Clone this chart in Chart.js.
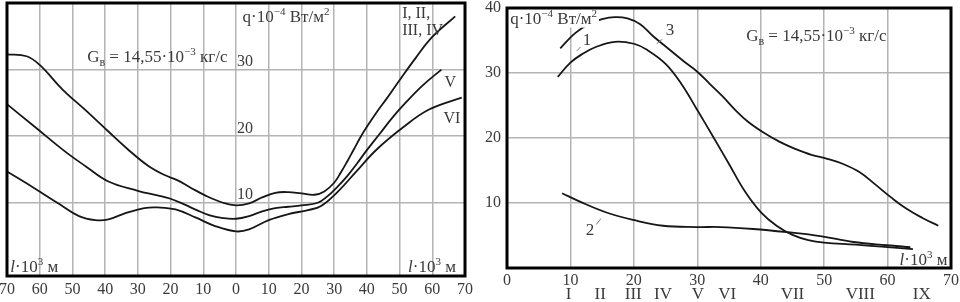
<!DOCTYPE html>
<html>
<head>
<meta charset="utf-8">
<title>q(l)</title>
<script src="https://cdn.jsdelivr.net/npm/chart.js"></script>
<style>
  body { margin: 0; background: #fff; }
  canvas { position: absolute; top: 0; }
  #left { left: 0; }
  #right { left: 480px; }
</style>
</head>
<body>
<canvas id="left" width="480" height="302"></canvas>
<canvas id="right" width="480" height="302"></canvas>

<script>
  // ---- left panel: l measured both ways from the centre ----
  const yTicksLeft = [10, 20, 30];

  const curveI_IV_x = [-70, -64, -60, -53, -46, -39, -33, -27, -22, -18, -14, -9, -4, 0, 4, 8, 12, 16, 20, 24, 27, 30, 32, 34, 36, 38, 40, 43, 46, 50, 55, 60, 67];
  const curveI_IV_y = [32.3, 32.0, 30.7, 27.0, 23.9, 20.7, 18.0, 15.6, 14.2, 13.4, 12.3, 11.0, 10.0, 9.6, 9.9, 10.8, 11.5, 11.6, 11.4, 11.2, 11.7, 13.0, 14.5, 16.2, 18.0, 19.8, 21.4, 23.6, 25.6, 28.4, 31.8, 34.9, 38.0];

  const curveV_x = [-70, -62, -52, -46, -39, -30, -24, -20, -16, -12, -8, -4, 0, 4, 8, 12, 16, 20, 25, 28, 31, 34, 37, 40, 44, 48, 52, 57, 62.8];
  const curveV_y = [24.8, 21.6, 17.6, 15.5, 13.2, 11.8, 11.1, 10.6, 9.8, 8.9, 8.1, 7.7, 7.6, 8.0, 8.7, 9.2, 9.4, 9.6, 10.0, 11.0, 12.4, 14.0, 15.9, 17.9, 20.4, 22.9, 25.1, 27.6, 30.0];

  const curveVI_x = [-70, -62, -54, -48, -43, -39, -34, -28, -24, -18.5, -12.4, -6.4, 0, 4, 10, 16, 22, 26, 31, 36.6, 43, 51, 59, 69];
  const curveVI_y = [14.7, 12.3, 9.8, 8.0, 7.4, 7.5, 8.4, 9.2, 9.3, 9.0, 7.8, 6.5, 5.7, 6.0, 7.4, 8.3, 8.9, 9.5, 11.6, 14.6, 18.0, 21.3, 24.0, 25.8];

  // ---- right panel ----
  const curve1_x = [8, 10, 12, 14, 17, 20, 22, 25, 27.5, 30, 32.5, 35, 37.5, 40, 42.5, 45, 47.5, 50, 55, 60, 64];
  const curve1_y = [29.4, 31.6, 33.0, 34.0, 34.8, 34.5, 33.6, 31.4, 28.3, 24.3, 20.2, 16.0, 11.8, 8.6, 6.5, 5.1, 4.3, 3.9, 3.6, 3.2, 2.9];

  const curve2_x = [8.7, 11.5, 15.8, 19.9, 24.6, 30, 33.6, 38.8, 44.2, 49.4, 54.6, 59.9, 63.6];
  const curve2_y = [11.5, 10.2, 8.5, 7.4, 6.5, 6.3, 6.3, 6.0, 5.5, 4.9, 4.0, 3.5, 3.2];

  const curve3_x = [8.4, 10.7, 13, 15, 17, 19, 21, 23, 25.5, 28, 30, 32, 34, 36, 38, 40.5, 43, 45.5, 48, 50.5, 53, 55.5, 58, 60.5, 63, 65.5, 68];
  const curve3_y = [33.8, 36.1, 37.6, 38.3, 38.6, 38.4, 37.5, 35.7, 33.7, 31.7, 30.2, 28.3, 26.4, 24.3, 22.5, 20.8, 19.4, 18.3, 17.4, 16.8, 16.0, 14.8, 12.9, 10.9, 9.1, 7.7, 6.5];

  // sections of the channel marked under the axis
  const sectionNames = ['I', 'II', 'III', 'IV', 'V', 'VI', 'VII', 'VIII', 'IX'];
  const sectionAt = [9.7, 14.7, 19.9, 24.6, 30.1, 34.7, 45, 55.7, 65.4];

  const FONT = "'Liberation Serif', 'DejaVu Serif', serif";
  const GRID = '#b4b4b4';
  const INK = '#161616';
  const TXT = '#3a3a3a';

  const G_TEXT = [{t: 'G'}, {t: 'в', sub: true}, {t: ' = 14,55·10'}, {t: '−3', sup: true}, {t: ' кг/с'}];
  const Q_TEXT = [{t: 'q·10'}, {t: '−4', sup: true}, {t: ' Вт/м'}, {t: '2', sup: true}];
  const L_TEXT = [{t: 'l', it: true}, {t: '·10'}, {t: '3', sup: true}, {t: ' м'}];

  function curve(xs, ys) {
    return {
      data: xs.map((x, i) => ({x: x, y: ys[i]})),
      showLine: true,
      borderColor: INK,
      borderWidth: 1.8,
      pointRadius: 0,
      fill: false,
      tension: 0.4
    };
  }

  // draws text made of pieces, some raised or lowered; returns width
  function rich(ctx, x, y, parts, size, color, bg) {
    const fonts = parts.map(p => {
      const s = p.sup ? Math.round(size * 0.62) : p.sub ? Math.round(size * 0.72) : size;
      return (p.it ? 'italic ' : '') + s + 'px ' + FONT;
    });
    let w = 0;
    const widths = parts.map((p, i) => { ctx.font = fonts[i]; const m = ctx.measureText(p.t).width; w += m; return m; });
    if (bg) {
      ctx.fillStyle = '#fff';
      ctx.fillRect(x - 1, y - size * 0.85, w + 3, size * 1.05);
    }
    ctx.fillStyle = color;
    ctx.textAlign = 'left';
    ctx.textBaseline = 'alphabetic';
    let cx = x;
    parts.forEach((p, i) => {
      ctx.font = fonts[i];
      let dy = 0;
      if (p.sup) dy = -size * 0.42;
      if (p.sub) dy = size * 0.2;
      ctx.fillText(p.t, cx, y + dy);
      cx += widths[i];
    });
    return w;
  }

  const notesPlugin = {
    id: 'notes',
    afterDatasetsDraw(chart, args, opts) {
      const ctx = chart.ctx;
      const xs = chart.scales.x, ys = chart.scales.y;
      const a = chart.chartArea;
      ctx.save();
      (opts.items || []).forEach(n => {
        const px = xs.getPixelForValue(n.x);
        const py = ys.getPixelForValue(n.y);
        const parts = typeof n.text === 'string' ? [{t: n.text}] : n.text;
        let x = px;
        if (n.align === 'center') {
          ctx.font = n.size + 'px ' + FONT;
          x = px - ctx.measureText(parts.map(p => p.t).join('')).width / 2;
        }
        rich(ctx, x, py, parts, n.size, n.color || TXT, n.bg);
      });
      (opts.leaders || []).forEach(l => {
        ctx.strokeStyle = '#777';
        ctx.lineWidth = 1;
        ctx.beginPath();
        ctx.moveTo(xs.getPixelForValue(l[0]), ys.getPixelForValue(l[1]));
        ctx.lineTo(xs.getPixelForValue(l[2]), ys.getPixelForValue(l[3]));
        ctx.stroke();
      });
      if (opts.sections) {
        ctx.font = '17px ' + FONT;
        ctx.fillStyle = TXT;
        ctx.textAlign = 'center';
        ctx.textBaseline = 'alphabetic';
        sectionNames.forEach((s, i) => ctx.fillText(s, xs.getPixelForValue(sectionAt[i]), a.bottom + 31));
      }
      // frame
      ctx.strokeStyle = '#000';
      ctx.lineWidth = 3;
      ctx.strokeRect(a.left, a.top, a.right - a.left, a.bottom - a.top);
      ctx.restore();
    }
  };

  const hideEdge = (lo, hi) => c => (c.tick && (c.tick.value === lo || c.tick.value === hi)) ? 'rgba(0,0,0,0)' : GRID;

  // ---------- left chart ----------
  new Chart(document.getElementById('left'), {
    type: 'scatter',
    data: {
      datasets: [curve(curveI_IV_x, curveI_IV_y), curve(curveV_x, curveV_y), curve(curveVI_x, curveVI_y)]
    },
    options: {
      responsive: false,
      animation: false,
      layout: { padding: { left: 7, right: 15, top: 3, bottom: 0 } },
      plugins: {
        legend: { display: false },
        tooltip: { enabled: false },
        notes: {
          items: [
            { x: -45.5, y: 31.1, text: G_TEXT, size: 17 },
            { x: 2, y: 37.2, text: Q_TEXT, size: 17 },
            { x: 50.8, y: 37.8, text: 'I, II,', size: 16 },
            { x: 50.8, y: 35.2, text: 'III, IV', size: 16 },
            { x: 63.7, y: 27.4, text: 'V', size: 16 },
            { x: 63.4, y: 22.0, text: 'VI', size: 16 },
            { x: -69, y: -0.4, text: L_TEXT, size: 17 },
            { x: 52.6, y: -0.4, text: L_TEXT, size: 17 },
            { x: 0.3, y: 30.5, text: '30', size: 16 },
            { x: 0.3, y: 20.5, text: '20', size: 16 },
            { x: 0.3, y: 10.5, text: '10', size: 16 }
          ]
        }
      },
      scales: {
        x: {
          type: 'linear',
          min: -70,
          max: 70,
          ticks: {
            stepSize: 10,
            maxRotation: 0,
            padding: 4,
            color: TXT,
            font: { family: FONT, size: 16 },
            callback: v => Math.abs(v)
          },
          grid: { color: hideEdge(-70, 70), lineWidth: 1.5, drawTicks: false },
          border: { display: false },
          afterFit: s => { s.height = 26; s.paddingLeft = 0; s.paddingRight = 0; }
        },
        y: {
          type: 'linear',
          min: -1,
          max: 40,
          afterBuildTicks: s => { s.ticks = yTicksLeft.map(v => ({value: v})); },
          ticks: { display: false },
          grid: { color: GRID, lineWidth: 1.5, drawTicks: false },
          border: { display: false },
          afterFit: s => { s.width = 0; }
        }
      }
    },
    plugins: [notesPlugin]
  });

  // ---------- right chart ----------
  new Chart(document.getElementById('right'), {
    type: 'scatter',
    data: {
      datasets: [curve(curve1_x, curve1_y), curve(curve2_x, curve2_y), curve(curve3_x, curve3_y)]
    },
    options: {
      responsive: false,
      animation: false,
      layout: { padding: { left: 0, right: 9, top: 8, bottom: 0 } },
      plugins: {
        legend: { display: false },
        tooltip: { enabled: false },
        notes: {
          items: [
            { x: 37.7, y: 34.9, text: G_TEXT, size: 17 },
            { x: 0.5, y: 37.5, text: Q_TEXT, size: 17, bg: true },
            { x: 12.6, y: 34.3, text: '1', size: 17, align: 'center' },
            { x: 13.1, y: 5.1, text: '2', size: 17, align: 'center' },
            { x: 25.7, y: 35.8, text: '3', size: 17, align: 'center' },
            { x: 61.9, y: 0.5, text: L_TEXT, size: 17 }
          ],
          leaders: [[24.5, 35.2, 23.6, 34.5], [14.1, 6.7, 14.8, 7.6], [11.6, 34.0, 11.0, 33.4]],
          sections: true
        }
      },
      scales: {
        x: {
          type: 'linear',
          min: 0,
          max: 70,
          ticks: {
            stepSize: 10,
            maxRotation: 0,
            padding: 3,
            color: TXT,
            font: { family: FONT, size: 16 }
          },
          grid: { color: hideEdge(0, 70), lineWidth: 1.5, drawTicks: false },
          border: { display: false },
          afterFit: s => { s.height = 34; s.paddingLeft = 0; s.paddingRight = 0; }
        },
        y: {
          type: 'linear',
          min: 0,
          max: 40,
          ticks: {
            stepSize: 10,
            padding: 6,
            color: TXT,
            font: { family: FONT, size: 16 },
            callback: v => v === 0 ? '' : v
          },
          grid: { color: hideEdge(0, 40), lineWidth: 1.5, drawTicks: false },
          border: { display: false },
          afterFit: s => { s.width = 27; s.paddingTop = 0; s.paddingBottom = 0; }
        }
      }
    },
    plugins: [notesPlugin]
  });
</script>
</body>
</html>
